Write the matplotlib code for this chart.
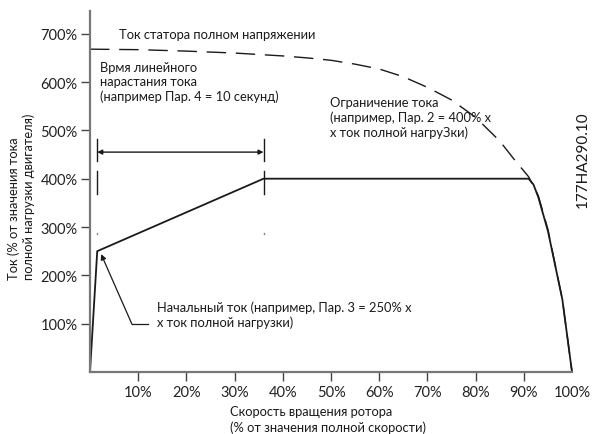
import matplotlib
matplotlib.use("Agg")
import matplotlib.pyplot as plt

plt.rcParams['font.family'] = ['Lato', 'Open Sans', 'DejaVu Sans']

# ---- data ----
x_ticks = [10, 20, 30, 40, 50, 60, 70, 80, 90, 100]
x_tick_labels = ['10%', '20%', '30%', '40%', '50%', '60%', '70%', '80%', '90%', '100%']
y_ticks = [100, 200, 300, 400, 500, 600, 700]
y_tick_labels = ['100%', '200%', '300%', '400%', '500%', '600%', '700%']

# full-voltage stator current (dashed)
full_x = [0, 10, 20, 30, 40, 45, 50, 55, 60, 65, 70, 75, 80, 85, 88, 91, 93, 95, 98, 100]
full_y = [668, 667, 664, 660, 654, 650, 645, 637, 627, 611, 589, 563, 527, 478, 440, 404, 365, 295, 150, 0]

# soft-start current (solid)
soft_x = [0, 1.5, 36, 91, 92, 93, 95, 98, 100]
soft_y = [0, 250, 400, 400, 388, 362, 292, 150, 0]

ramp_start = 1.5
ramp_end = 36
ramp_arrow_y = 455
guide_dash1 = (482, 437)
guide_dash2 = (416, 368)
guide_dot = 288

init_arrow_tip = (2.3, 244)
init_arrow_tail = (8.7, 99)
init_leader_end = 12.0

texts = {
    'full': "Ток статора полном напряжении",
    'ramp': "Врмя линейного\nнарастания тока\n(например Пар. 4 = 10 секунд)",
    'limit': "Ограничение тока\n(например, Пар. 2 = 400% x\nx ток полной нагруЗки)",
    'init': "Начальный ток (например, Пар. 3 = 250% x\nx ток полной нагрузки)",
}
xlabel = "Скорость вращения ротора\n(% от значения полной скорости)"
ylabel = "Ток (% от значения тока\nполной нагрузки двигателя)"
code = "177HA290.10"

# ---- figure ----
W, H = 596, 435
fig = plt.figure(figsize=(W / 100, H / 100), dpi=100)
ax = fig.add_axes([90 / W, 1 - 373 / H, (572 - 90) / W, (373 - 12) / H])
ax.set_xlim(0, 100)
ax.set_ylim(0, 747)

for s in ['top', 'right']:
    ax.spines[s].set_visible(False)
for s in ['left', 'bottom']:
    ax.spines[s].set_color('#777777')
    ax.spines[s].set_linewidth(1.6)

ink = '#1a1a1a'
tfs = 10.5
fs = 9.3

ax.set_xticks(x_ticks)
ax.set_xticklabels(x_tick_labels, fontsize=tfs, color='#222222')
ax.set_yticks(y_ticks)
ax.set_yticklabels(y_tick_labels, fontsize=tfs, color='#222222')
ax.tick_params(axis='x', direction='out', length=6.5, width=1.0, color='#444444', pad=3.0)
ax.tick_params(axis='y', direction='out', length=6.5, width=1.0, color='#444444', pad=2.5)
ax.xaxis.get_major_ticks()[-1].tick1line.set_visible(False)

# curves
ax.plot(full_x, full_y, color=ink, lw=1.0, dashes=(14, 7), clip_on=False)
ax.plot(soft_x, soft_y, color=ink, lw=1.3, clip_on=False)

# ramp guides
for xv in (ramp_start, ramp_end):
    ax.plot([xv, xv], list(guide_dash1), color=ink, lw=1.0)
    ax.plot([xv, xv], list(guide_dash2), color=ink, lw=1.0)
    ax.plot([xv, xv], [guide_dot, guide_dot - 3], color='#888888', lw=1.0)

ax.annotate('', xy=(ramp_end, ramp_arrow_y), xytext=(ramp_start, ramp_arrow_y),
            arrowprops=dict(arrowstyle='<|-|>', color=ink, lw=1.0,
                            mutation_scale=7, shrinkA=0, shrinkB=0))

# initial current leader
ax.plot([init_arrow_tail[0], init_leader_end], [init_arrow_tail[1], init_arrow_tail[1]],
        color=ink, lw=0.9)
ax.annotate('', xy=init_arrow_tip, xytext=init_arrow_tail,
            arrowprops=dict(arrowstyle='-|>', color=ink, lw=0.9,
                            mutation_scale=8, shrinkA=0, shrinkB=0))

# texts
ax.text(6.0, 691, texts['full'], fontsize=fs, color=ink, ha='left', va='baseline')
ax.text(2.1, 562, texts['ramp'], fontsize=fs, color=ink, ha='left', va='baseline', linespacing=1.25)
ax.text(49.8, 488, texts['limit'], fontsize=fs, color=ink, ha='left', va='baseline', linespacing=1.25)
ax.text(14.0, 94.6, texts['init'], fontsize=fs, color=ink, ha='left', va='baseline', linespacing=1.25)

fig.text(230 / W, 1 - 420 / H, xlabel, fontsize=fs, color=ink, ha='left', va='center',
         multialignment='left', linespacing=1.25)
fig.text(21 / W, 1 - 197 / H, ylabel, fontsize=fs, color=ink, ha='center', va='center',
         rotation=90, multialignment='left', linespacing=1.25)
fig.text(583 / W, 1 - 160 / H, code, fontsize=11, color=ink, ha='center', va='center',
         rotation=90)

fig.savefig('out.png', dpi=100)
